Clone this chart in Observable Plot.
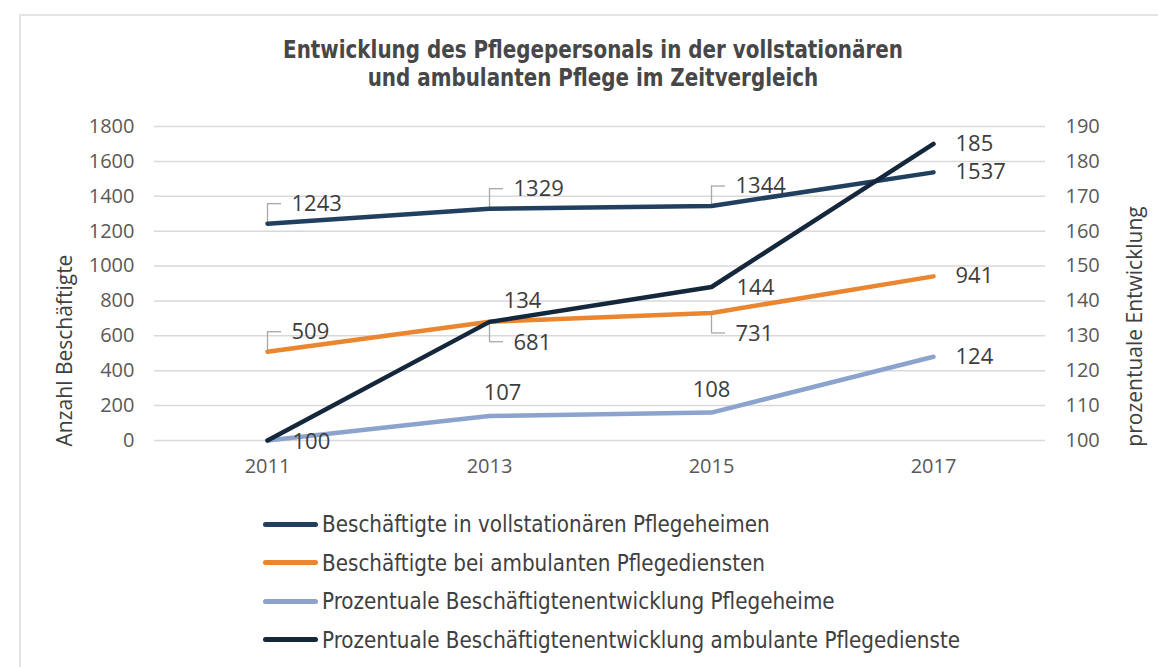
<!DOCTYPE html>
<html>
<head>
<meta charset="utf-8">
<script src="https://cdn.jsdelivr.net/npm/d3@7"></script>
<script src="https://cdn.jsdelivr.net/npm/@observablehq/plot@0.6"></script>
<style>
  body { margin: 0; background: #fff; }
  #page { position: relative; width: 1158px; height: 667px; overflow: hidden; background: #fff; font-family: "Open Sans", sans-serif; }
  #frame { position: absolute; left: 19px; top: 14px; width: 1200px; height: 700px; border: 2.5px solid #e4e4e4; box-sizing: border-box; }
  #title { position: absolute; left: 0; width: 1186px; top: 36px; text-align: center; font-family: "Liberation Sans Narrow", "DejaVu Sans Condensed", sans-serif; font-stretch: condensed; font-weight: bold; font-size: 25px; line-height: 28px; color: #474747; transform: scaleX(0.885); transform-origin: 593px 0; }
  #chart { position: absolute; left: 0; top: 100px; }
  #legend { position: absolute; left: 263px; top: 505px; }
  .item { display: flex; align-items: center; height: 38.5px; }
  .swatch { width: 55px; height: 5px; border-radius: 3px; margin-right: 4px; }
  .lab { font-family: "Liberation Sans Narrow", "DejaVu Sans Condensed", sans-serif; font-stretch: condensed; font-size: 22.2px; color: #404040; white-space: nowrap; }
</style>
</head>
<body>
<div id="page">
  <div id="frame"></div>
  <div id="title">Entwicklung des Pflegepersonals in der vollstationären<br>und ambulanten Pflege im Zeitvergleich</div>
  <div id="chart"></div>
  <div id="legend"></div>
</div>
<script>
// ---- data ----
const years = ["2011", "2013", "2015", "2017"];
const seriesNames = [
  "Beschäftigte in vollstationären Pflegeheimen",
  "Beschäftigte bei ambulanten Pflegediensten",
  "Prozentuale Beschäftigtenentwicklung Pflegeheime",
  "Prozentuale Beschäftigtenentwicklung ambulante Pflegedienste"
];
const seriesColors = ["#213f5f", "#ea8530", "#8ba3cd", "#15273b"];
const pflegeheime = [1243, 1329, 1344, 1537];
const ambulant = [509, 681, 731, 941];
const pctPflegeheime = [100, 107, 108, 124];
const pctAmbulant = [100, 134, 144, 185];
const leftTicks = [0, 200, 400, 600, 800, 1000, 1200, 1400, 1600, 1800];
const rightTicks = [100, 110, 120, 130, 140, 150, 160, 170, 180, 190];
const leftTitle = "Anzahl Beschäftigte";
const rightTitle = "prozentuale Entwicklung";

// right axis (percent) mapped onto the left axis range
const leftMax = leftTicks[leftTicks.length - 1];
const rMin = rightTicks[0], rMax = rightTicks[rightTicks.length - 1];
const toLeft = v => (v - rMin) / (rMax - rMin) * leftMax;

// label placement presets (layout only)
const presets = {
  up:     {dx: 24, dy: -20, textAnchor: "start"},
  down:   {dx: 24, dy: 21,  textAnchor: "start"},
  right:  {dx: 22, dy: 0,   textAnchor: "start"},
  side:   {dx: 25, dy: 1,   textAnchor: "start"},
  above:  {dx: 0,  dy: -23, textAnchor: "middle"},
  aboveR: {dx: 13, dy: -23, textAnchor: "middle"},
  aboveRR:{dx: 33, dy: -21, textAnchor: "middle"}
};
const placement = [
  ["up", "up", "up", "right"],
  ["up", "down", "down", "right"],
  ["side", "aboveR", "above", "right"],
  [null, "aboveRR", "side", "right"]
];

const values = [pflegeheime, ambulant, pctPflegeheime, pctAmbulant];
const isPct = [false, false, true, true];
const rows = [];
values.forEach((arr, s) => arr.forEach((v, i) => rows.push({
  series: seriesNames[s], year: years[i], value: v,
  y: isPct[s] ? toLeft(v) : v, place: placement[s][i]
})));

const labelMarks = [];
for (const [key, p] of Object.entries(presets)) {
  const sub = rows.filter(d => d.place === key);
  labelMarks.push(Plot.text(sub, {x: "year", y: "y", text: d => String(d.value), dx: p.dx, dy: p.dy, textAnchor: p.textAnchor, fontSize: 22, fill: "#3d3d3d"}));
}
const leaderStyle = {stroke: "#a8a8a8", strokeWidth: 1.3};
const ups = rows.filter(d => d.place === "up");
const downs = rows.filter(d => d.place === "down");
const leaders = [
  Plot.ruleX(ups, {x: "year", y1: "y", y2: "y", insetTop: -10, insetBottom: -10, dy: -10, ...leaderStyle}),
  Plot.ruleY(ups, {y: "y", x1: "year", x2: "year", insetLeft: -7, insetRight: -7, dx: 7, dy: -20, ...leaderStyle}),
  Plot.ruleX(downs, {x: "year", y1: "y", y2: "y", insetTop: -10, insetBottom: -10, dy: 10, ...leaderStyle}),
  Plot.ruleY(downs, {y: "y", x1: "year", x2: "year", insetLeft: -7, insetRight: -7, dx: 7, dy: 20, ...leaderStyle})
];

const chart = Plot.plot({
  width: 1158,
  height: 390,
  marginTop: 26,
  marginBottom: 50,
  marginLeft: 154,
  marginRight: 113,
  style: {fontFamily: "Open Sans, sans-serif", fontSize: "20px", color: "#595959", background: "transparent", overflow: "visible"},
  x: {type: "point", domain: years, padding: 0.5},
  y: {domain: [0, leftMax]},
  color: {domain: seriesNames, range: seriesColors},
  marks: [
    Plot.ruleY(leftTicks, {stroke: "#d9d9d9", strokeWidth: 1.5}),
    Plot.axisY(leftTicks, {anchor: "left", tickSize: 0, tickPadding: 20, label: null, fontSize: 20, tickFormat: d => String(d)}),
    Plot.axisY(rightTicks.map(toLeft), {anchor: "right", tickSize: 0, tickPadding: 20, label: null, fontSize: 20, tickFormat: (d, i) => String(rightTicks[i])}),
    Plot.axisX({tickSize: 0, tickPadding: 18, label: null, fontSize: 20}),
    Plot.text([leftTitle], {frameAnchor: "left", dx: -89, dy: 67, rotate: -90, textAnchor: "middle", fontSize: 21, fill: "#404040"}),
    Plot.text([rightTitle], {frameAnchor: "right", dx: 90, dy: 43, rotate: -90, textAnchor: "middle", fontSize: 21, fill: "#404040"}),
    ...leaders,
    Plot.lineY(rows, {x: "year", y: "y", z: "series", stroke: "series", strokeWidth: 4.5, strokeLinecap: "round", strokeLinejoin: "round"}),
    ...labelMarks
  ]
});
document.getElementById("chart").appendChild(chart);

// legend
const legend = document.getElementById("legend");
seriesNames.forEach((name, i) => {
  const item = document.createElement("div");
  item.className = "item";
  const sw = document.createElement("div");
  sw.className = "swatch";
  sw.style.background = seriesColors[i];
  const lab = document.createElement("span");
  lab.className = "lab";
  lab.textContent = name;
  item.appendChild(sw);
  item.appendChild(lab);
  legend.appendChild(item);
});
</script>
</body>
</html>
